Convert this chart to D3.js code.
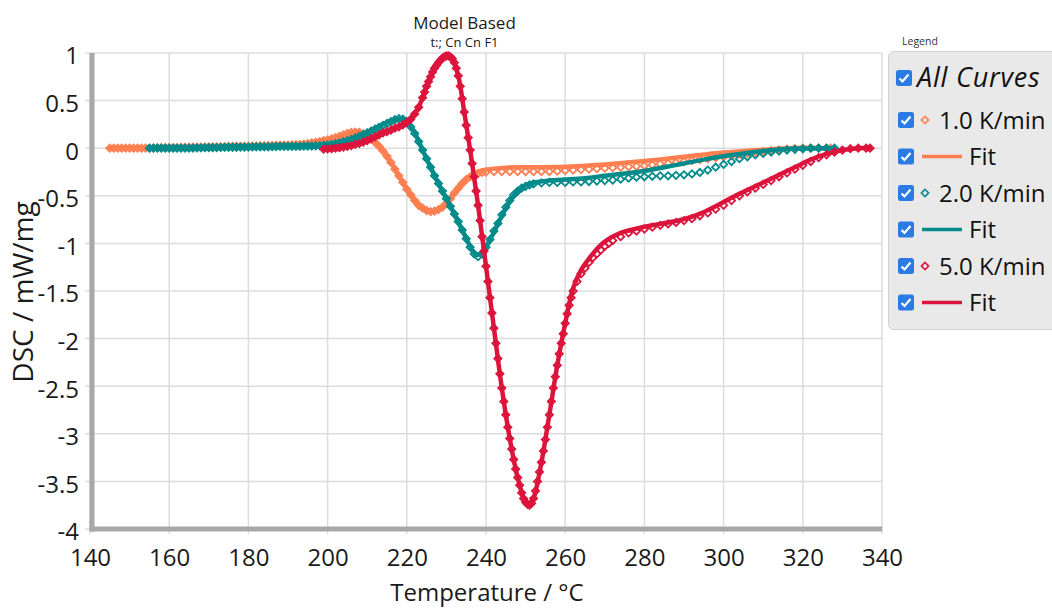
<!DOCTYPE html>
<html>
<head>
<meta charset="utf-8">
<script src="https://cdn.jsdelivr.net/npm/d3@7"></script>
<style>
  body { margin: 0; background: #fff; }
  text { font-family: "Open Sans", sans-serif; }
</style>
</head>
<body>
<script>
"use strict"

// axis ticks
const tempTicks = [140, 160, 180, 200, 220, 240, 260, 280, 300, 320, 340];
const dscTicks = [1, 0.5, 0, -0.5, -1, -1.5, -2, -2.5, -3, -3.5, -4];

const seriesNames = ['1.0 K/min', '2.0 K/min', '5.0 K/min'];
const seriesColors = ['#ff7f50', '#008b8b', '#dc143c'];

// measured points [temperature, DSC]
const meas1 = [
  [145,0],[146,0],[147,0],[148,0],[149,0],[150,0],[151,0],[152,0],[153,0],[154,0],[155,0],[156,0.003],
  [157,0.005],[158,0.005],[159,0.005],[160,0.005],[161,0.005],[162,0.007],[163,0.008],[164,0.009],
  [165,0.01],[166,0.01],[167,0.01],[168,0.011],[169,0.012],[170,0.013],[171,0.015],[172,0.015],
  [173,0.015],[174,0.017],[175,0.018],[176,0.019],[177,0.02],[178,0.02],[179,0.02],[180,0.021],
  [181,0.022],[182,0.023],[183,0.025],[184,0.026],[185,0.027],[186,0.028],[187,0.03],[188,0.031],
  [189,0.032],[190,0.033],[191,0.035],[192,0.037],[193,0.04],[194,0.044],[195,0.048],
  [196,0.055],[197,0.062],[198,0.07],[199,0.08],[200,0.088],[201,0.097],[202,0.11],[203,0.125],
  [204,0.14],[205,0.155],[206,0.165],[207,0.17],[208,0.165],[209,0.15],[210,0.125],[211,0.095],
  [212,0.06],[213,0.02],[214,-0.03],[215,-0.085],[216,-0.15],[217,-0.22],[218,-0.29],[219,-0.36],
  [220,-0.43],[221,-0.49],[222,-0.55],[223,-0.6],[224,-0.63],[225,-0.655],[226,-0.665],[227,-0.66],
  [228,-0.645],[229,-0.62],[230,-0.58],[231,-0.53],[232,-0.47],[233,-0.42],[234,-0.37],[235,-0.33],
  [236,-0.3],[237,-0.28],[238,-0.265],[239,-0.255],[240,-0.25],[242,-0.245],[244,-0.245],[246,-0.245],
  [248,-0.245],[250,-0.245],[252,-0.245],[254,-0.245],[256,-0.245],[258,-0.24],[260,-0.235],[262,-0.23],
  [264,-0.225],[266,-0.22],[268,-0.215],[270,-0.21],[272,-0.205],[274,-0.2],[276,-0.195],[278,-0.19],
  [280,-0.185],[282,-0.175],[284,-0.165],[286,-0.16],[288,-0.15],[290,-0.14],[292,-0.13],[294,-0.12],
  [296,-0.11],[298,-0.1],[300,-0.09],[302,-0.08],[304,-0.065],[306,-0.055],[308,-0.045],[310,-0.035],
  [312,-0.025],[314,-0.018],[316,-0.01],[318,-0.005],[320,0],[322,0],[324,0],[326,0],[327,0]
];
const fit1 = [
  [145,0],[160,0.005],[180,0.02],[190,0.035],[196,0.06],[200,0.095],[203,0.13],[206,0.16],[208,0.165],
  [210,0.13],[212,0.065],[214,-0.03],[216,-0.15],[218,-0.29],[220,-0.43],[222,-0.55],[224,-0.635],
  [226,-0.665],[228,-0.645],[230,-0.585],[232,-0.48],[234,-0.37],[236,-0.29],[238,-0.245],[240,-0.225],
  [245,-0.205],[250,-0.2],[260,-0.195],[270,-0.17],[280,-0.135],[290,-0.09],[300,-0.045],[310,-0.015],
  [320,0.005],[327,0]
];

const meas2 = [
  [155,0],[156,0],[157,0],[158,0],[159,0],[160,0],[161,0],[162,0],[163,0],[164,0],[165,0],[166,0.002],
  [167,0.003],[168,0.004],[169,0.005],[170,0.005],[171,0.005],[172,0.007],[173,0.008],[174,0.009],
  [175,0.01],[176,0.01],[177,0.01],[178,0.011],[179,0.012],[180,0.012],[181,0.013],[182,0.014],
  [183,0.015],[184,0.015],[185,0.015],[186,0.016],[187,0.017],[188,0.018],[189,0.018],[190,0.018],
  [191,0.018],[192,0.019],[193,0.02],[194,0.021],[195,0.022],[196,0.023],[197,0.025],[198,0.027],
  [199,0.03],[200,0.035],[201,0.04],[202,0.048],
  [203,0.057],[204,0.068],[205,0.08],[206,0.093],[207,0.108],[208,0.125],[209,0.143],[210,0.162],
  [211,0.18],[212,0.2],[213,0.22],[214,0.24],[215,0.26],[216,0.28],[217,0.3],[218,0.31],[219,0.305],
  [220,0.28],[221,0.225],[222,0.155],[223,0.07],[224,-0.02],[225,-0.11],[226,-0.2],[227,-0.29],
  [228,-0.37],[229,-0.45],[230,-0.53],[231,-0.61],[232,-0.69],[233,-0.77],[234,-0.86],[235,-0.95],
  [236,-1.04],[237,-1.11],[238,-1.14],[239,-1.11],[240,-1.04],[241,-0.96],[242,-0.87],[243,-0.79],
  [244,-0.7],[245,-0.62],[246,-0.55],[247,-0.49],[248,-0.45],[249,-0.42],[250,-0.4],[251,-0.385],
  [252,-0.375],[254,-0.365],[256,-0.36],[258,-0.36],[260,-0.36],[262,-0.355],[264,-0.355],[266,-0.35],
  [268,-0.345],[270,-0.34],[272,-0.335],[274,-0.325],[276,-0.315],[278,-0.305],[280,-0.3],[282,-0.295],
  [284,-0.29],[286,-0.29],[288,-0.285],[290,-0.28],[292,-0.27],[294,-0.255],[296,-0.23],[298,-0.2],
  [300,-0.17],[302,-0.14],[304,-0.11],[306,-0.09],[308,-0.07],[310,-0.055],[312,-0.04],[314,-0.03],
  [316,-0.02],[318,-0.012],[320,-0.006],[322,0],[324,0],[326,0],[328,0]
];
const fit2 = [
  [155,0],[170,0.005],[185,0.015],[195,0.022],[200,0.035],[204,0.07],[208,0.13],[212,0.21],[215,0.27],
  [217,0.3],[218.5,0.31],[220,0.285],[222,0.16],[224,-0.02],[226,-0.2],[228,-0.37],[230,-0.53],
  [232,-0.69],[234,-0.86],[236,-1.03],[237.5,-1.12],[239,-1.1],[240,-1.04],[242,-0.88],[244,-0.71],
  [246,-0.56],[248,-0.45],[250,-0.39],[253,-0.355],[256,-0.34],[260,-0.33],[265,-0.315],[270,-0.29],
  [275,-0.265],[280,-0.24],[285,-0.2],[290,-0.16],[295,-0.12],[300,-0.085],[305,-0.055],[310,-0.03],
  [315,-0.012],[320,-0.003],[328,0]
];

const meas3 = [
  [199,-0.01],[200,-0.008],[201,-0.005],[202,0],[203,0.005],[204,0.012],[205,0.02],[206,0.028],
  [207,0.04],[208,0.05],[209,0.065],[210,0.08],[211,0.1],[212,0.12],[213,0.14],[214,0.16],[215,0.175],
  [216,0.19],[217,0.21],[218,0.225],[219,0.245],[220,0.27],[221,0.305],[222,0.36],[223,0.43],[224,0.53],
  [224.5,0.59],[225,0.65],[225.5,0.7],[226,0.75],[226.5,0.8],[227,0.84],[227.5,0.87],[228,0.9],
  [228.5,0.925],[229,0.945],[229.5,0.96],[230,0.97],[230.5,0.97],[231,0.96],[231.5,0.94],[232,0.9],
  [232.5,0.84],[233,0.76],[233.5,0.65],[234,0.52],[234.5,0.38],[235,0.24],[235.5,0.11],[236,-0.02],
  [236.5,-0.16],[237,-0.3],[237.5,-0.45],[238,-0.6],[238.5,-0.76],[239,-0.93],[239.5,-1.08],[240,-1.24],
  [240.5,-1.4],[241,-1.57],[241.5,-1.73],[242,-1.89],[242.5,-2.05],[243,-2.21],[243.5,-2.37],[244,-2.52],
  [244.5,-2.66],[245,-2.8],[245.5,-2.93],[246,-3.05],[246.5,-3.16],[247,-3.27],[247.5,-3.37],[248,-3.46],
  [248.5,-3.54],[249,-3.62],[249.5,-3.68],[250,-3.72],[250.5,-3.74],[251,-3.75],[251.5,-3.73],[252,-3.68],
  [252.5,-3.6],[253,-3.5],[253.5,-3.4],[254,-3.3],[254.5,-3.18],[255,-3.06],[255.5,-2.93],[256,-2.8],
  [256.5,-2.66],[257,-2.52],[257.5,-2.4],[258,-2.28],[258.5,-2.16],[259,-2.05],[259.5,-1.95],[260,-1.84],
  [260.5,-1.74],[261,-1.65],[261.5,-1.57],[262,-1.5],[263,-1.4],[264,-1.32],[265,-1.26],[266,-1.2],
  [267,-1.15],[268,-1.11],[269,-1.07],[270,-1.03],[271,-1.0],[272,-0.97],[274,-0.93],[276,-0.89],
  [278,-0.87],[280,-0.85],[282,-0.83],[284,-0.81],[286,-0.795],[288,-0.78],[290,-0.76],[292,-0.74],
  [294,-0.71],[296,-0.68],[298,-0.64],[300,-0.6],[302,-0.55],[304,-0.5],[306,-0.46],[308,-0.42],
  [310,-0.38],[312,-0.34],[314,-0.3],[316,-0.26],[318,-0.22],[320,-0.18],[322,-0.14],[324,-0.1],
  [326,-0.07],[328,-0.04],[330,-0.02],[332,-0.005],[334,0],[336,0],[337,0]
];
const fit3 = [
  [199,-0.01],[203,0.005],[207,0.04],[211,0.1],[215,0.175],[219,0.245],[221,0.305],[223,0.43],[225,0.65],
  [227,0.84],[229,0.945],[230.3,0.975],[231.5,0.94],[233,0.76],[234.5,0.38],[236,-0.02],[238,-0.6],
  [240,-1.24],[242,-1.89],[244,-2.52],[246,-3.05],[248,-3.46],[250,-3.72],[251,-3.75],[252,-3.68],
  [254,-3.3],[256,-2.8],[258,-2.28],[260,-1.84],[262,-1.47],[264,-1.28],[266,-1.16],[268,-1.06],
  [270,-0.98],[274,-0.89],[278,-0.845],[282,-0.81],[286,-0.78],[290,-0.745],[294,-0.69],[298,-0.61],
  [302,-0.52],[306,-0.44],[310,-0.36],[314,-0.28],[318,-0.2],[322,-0.12],[326,-0.06],[330,-0.02],
  [334,0],[337,0]
];

const measured = [meas1, meas2, meas3];
const fits = [fit1, fit2, fit3];

const w = 1052, h = 609;
const plotLeft = 90, plotRight = 882, plotTop = 53, plotBottom = 529;

const svg = d3.select('body').append('svg')
  .attr('width', w)
  .attr('height', h);

const x = d3.scaleLinear().domain([140, 340]).range([plotLeft, plotRight]);
const y = d3.scaleLinear().domain([-4, 1]).range([plotBottom, plotTop]);

// grid
svg.append('g')
  .selectAll('line')
  .data(tempTicks)
  .join('line')
  .attr('x1', d => x(d)).attr('x2', d => x(d))
  .attr('y1', plotTop).attr('y2', plotBottom + 5)
  .attr('stroke', '#dcdcdc').attr('stroke-width', 1.5);

svg.append('g')
  .selectAll('line')
  .data(dscTicks)
  .join('line')
  .attr('x1', plotLeft - 5).attr('x2', plotRight)
  .attr('y1', d => y(d)).attr('y2', d => y(d))
  .attr('stroke', '#dcdcdc').attr('stroke-width', 1.5);

// axis lines
svg.append('line')
  .attr('x1', plotLeft + 2).attr('x2', plotLeft + 2)
  .attr('y1', plotTop).attr('y2', plotBottom + 2.5)
  .attr('stroke', '#a8a8a8').attr('stroke-width', 5);
svg.append('line')
  .attr('x1', plotLeft - 0.5).attr('x2', plotRight)
  .attr('y1', plotBottom).attr('y2', plotBottom)
  .attr('stroke', '#a8a8a8').attr('stroke-width', 5);

// tick labels
const xAxis = d3.axisBottom(x).tickValues(tempTicks).tickSize(0).tickPadding(0).tickFormat(d => String(d));
const yAxis = d3.axisLeft(y).tickValues(dscTicks).tickSize(0).tickPadding(0).tickFormat(d => String(d));

const gx = svg.append('g')
  .attr('transform', 'translate(0,' + (plotBottom + 18) + ')')
  .call(xAxis);
const gy = svg.append('g')
  .attr('transform', 'translate(79,0)')
  .call(yAxis);
[gx, gy].forEach(g => {
  g.select('.domain').remove();
  g.selectAll('text')
    .attr('font-family', '"Open Sans", sans-serif')
    .attr('font-size', 24)
    .attr('fill', '#1a1a1a');
});
gx.selectAll('text').attr('dy', '0.78em');
gy.selectAll('text').attr('dy', '0.45em');

// axis titles
svg.append('text')
  .attr('x', 487).attr('y', 601)
  .attr('text-anchor', 'middle')
  .attr('font-size', 24)
  .attr('fill', '#1a1a1a')
  .text('Temperature / °C');
svg.append('text')
  .attr('transform', 'translate(33,292) rotate(-90)')
  .attr('text-anchor', 'middle')
  .attr('font-size', 28)
  .attr('fill', '#1a1a1a')
  .text('DSC / mW/mg');

// titles
svg.append('text')
  .attr('x', 464.5).attr('y', 29)
  .attr('text-anchor', 'middle')
  .attr('font-size', 17)
  .attr('fill', '#1a1a1a')
  .text('Model Based');
svg.append('text')
  .attr('x', 464.5).attr('y', 46.5)
  .attr('text-anchor', 'middle')
  .attr('font-size', 13)
  .attr('fill', '#1a1a1a')
  .text('t:; Cn Cn F1');

// curves: fit line under its measured points
const line = d3.line()
  .x(d => x(d[0]))
  .y(d => y(d[1]))
  .curve(d3.curveCatmullRom);

const diamond = d3.symbol().type(d3.symbolSquare).size(26);

measured.forEach((data, i) => {
  const g = svg.append('g');
  g.append('path')
    .datum(fits[i])
    .attr('d', line)
    .attr('fill', 'none')
    .attr('stroke', seriesColors[i])
    .attr('stroke-width', 4.5)
    .attr('stroke-linejoin', 'round')
    .attr('stroke-linecap', 'round');
  g.selectAll('path.pt')
    .data(data)
    .join('path')
    .attr('class', 'pt')
    .attr('d', diamond)
    .attr('transform', d => 'translate(' + x(d[0]) + ',' + y(d[1]) + ') rotate(45)')
    .attr('fill', 'none')
    .attr('stroke', seriesColors[i])
    .attr('stroke-width', 1.8);
});

// legend
svg.append('text')
  .attr('x', 902).attr('y', 45)
  .attr('font-size', 10.5)
  .attr('fill', '#333')
  .text('Legend');

svg.append('rect')
  .attr('x', 888.5).attr('y', 51.5)
  .attr('width', 175).attr('height', 278)
  .attr('rx', 5)
  .attr('fill', '#e9e9e9')
  .attr('stroke', '#d2d2d2');

function checkbox(cx, cy) {
  svg.append('rect')
    .attr('x', cx - 8).attr('y', cy - 8)
    .attr('width', 16).attr('height', 16)
    .attr('rx', 2.5)
    .attr('fill', '#2b7be4');
  svg.append('path')
    .attr('d', 'M' + (cx - 4.5) + ',' + (cy + 0.5) + ' L' + (cx - 1.5) + ',' + (cy + 3.5) + ' L' + (cx + 4.5) + ',' + (cy - 3.5))
    .attr('fill', 'none')
    .attr('stroke', '#fff')
    .attr('stroke-width', 2.2);
}

checkbox(904, 78);
svg.append('text')
  .attr('x', 917).attr('y', 87)
  .attr('font-size', 27)
  .attr('font-style', 'italic')
  .attr('letter-spacing', 0.8)
  .attr('fill', '#111')
  .text('All Curves');

const legendRows = [];
seriesNames.forEach((name, i) => {
  legendRows.push({ label: name, kind: 'pt', color: seriesColors[i] });
  legendRows.push({ label: 'Fit', kind: 'line', color: seriesColors[i] });
});

legendRows.forEach((r, i) => {
  const cy = 120 + i * 36.5;
  checkbox(906, cy);
  if (r.kind === 'pt') {
    svg.append('path')
      .attr('d', diamond)
      .attr('transform', 'translate(925,' + cy + ') rotate(45)')
      .attr('fill', 'none')
      .attr('stroke', r.color)
      .attr('stroke-width', 1.6);
    svg.append('text')
      .attr('x', 939).attr('y', cy + 8.5)
      .attr('font-size', 24)
      .attr('fill', '#111')
      .text(r.label);
  } else {
    svg.append('line')
      .attr('x1', 922).attr('x2', 962)
      .attr('y1', cy).attr('y2', cy)
      .attr('stroke', r.color)
      .attr('stroke-width', 3.5);
    svg.append('text')
      .attr('x', 969).attr('y', cy + 8.5)
      .attr('font-size', 24)
      .attr('fill', '#111')
      .text(r.label);
  }
});
</script>
</body>
</html>
